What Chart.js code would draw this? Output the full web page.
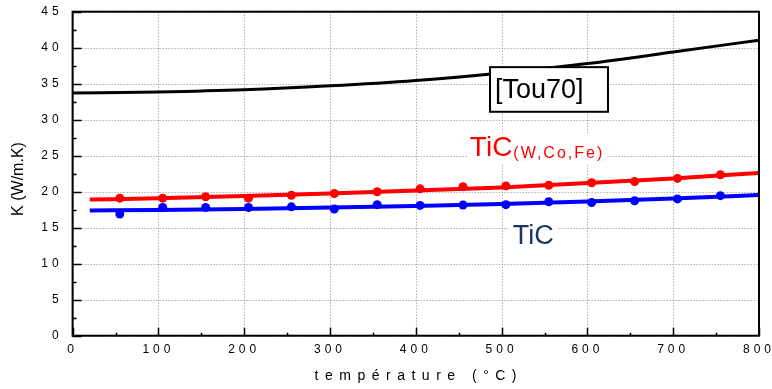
<!DOCTYPE html>
<html><head><meta charset="utf-8">
<script src="https://cdn.jsdelivr.net/npm/chart.js@4.4.1/dist/chart.umd.min.js"></script>
<style>html,body{margin:0;padding:0;background:#fff;}#wrap{width:772px;height:389px;position:relative;}</style>
</head><body><div id="wrap"><canvas id="c" width="772" height="389"></canvas></div>
<script>
// ---- data ----
const measuredTemps = [55, 105, 155, 205, 255, 305, 355, 405, 455, 505, 555, 605, 655, 705, 755];
const ticWCoFe = [19.1, 19.1, 19.3, 19.1, 19.5, 19.75, 20.0, 20.4, 20.7, 20.8, 20.9, 21.25, 21.4, 21.85, 22.35];
const tic = [16.9, 17.8, 17.8, 17.8, 17.9, 17.6, 18.2, 18.1, 18.15, 18.2, 18.6, 18.5, 18.75, 19.0, 19.45];
const fitTemps = [20, 100, 200, 300, 400, 500, 600, 700, 800];
const ticWCoFeFit = [18.9, 19.1, 19.4, 19.75, 20.15, 20.6, 21.2, 21.85, 22.6];
const ticFit = [17.4, 17.45, 17.6, 17.8, 18.0, 18.3, 18.65, 19.05, 19.55];
const tou70Temps = [0, 100, 200, 300, 400, 500, 600, 700, 800];
const tou70 = [33.7, 33.85, 34.15, 34.7, 35.45, 36.5, 37.8, 39.4, 41.05];
const xTickValues = [0, 100, 200, 300, 400, 500, 600, 700, 800];
const yTickValues = [0, 5, 10, 15, 20, 25, 30, 35, 40, 45];
const xTitle = 'température (°C)';
const yTitle = 'K (W/m.K)';
const labelTou70 = '[Tou70]';
const labelTicWCoFe = 'TiC';
const labelTicWCoFeSub = '(W,Co,Fe)';
const labelTic = 'TiC';

const FONT = '"Liberation Sans", Arial, sans-serif';
const pts = (xs, ys) => xs.map((v, i) => ({x: v, y: ys[i]}));

const decor = {
  id: 'decor',
  beforeDraw(chart) { chart.ctx.letterSpacing = '4px'; },
  beforeDatasetsDraw(chart) {
    // dotted grid lines at the scales' ticks
    const {ctx, chartArea: a, scales: {x, y}} = chart;
    ctx.save();
    ctx.strokeStyle = '#8c8c8c'; ctx.lineWidth = 1;
    ctx.setLineDash([1, 2]);
    ctx.beginPath();
    x.ticks.forEach(t => {
      const px = Math.round(x.getPixelForValue(t.value)) + 0.5;
      ctx.moveTo(px, a.top); ctx.lineTo(px, a.bottom);
    });
    y.ticks.forEach(t => {
      const py = Math.round(y.getPixelForValue(t.value)) + 0.5;
      ctx.moveTo(a.left, py); ctx.lineTo(a.right, py);
    });
    ctx.stroke();
    ctx.restore();
  },
  afterDatasetsDraw(chart) {
    const {ctx, chartArea: a, scales: {x, y}} = chart;
    ctx.save();
    ctx.letterSpacing = '0px';
    // frame
    ctx.strokeStyle = '#000'; ctx.lineWidth = 2;
    ctx.strokeRect(a.left, a.top, a.right - a.left, a.bottom - a.top);
    // inward ticks
    ctx.lineWidth = 1.5;
    ctx.beginPath();
    for (let v = 0; v <= 45; v += 2.5) {
      const py = Math.round(y.getPixelForValue(v)) + 0.5;
      const len = (v % 5 === 0) ? 9 : 4;
      ctx.moveTo(a.left, py); ctx.lineTo(a.left + len, py);
    }
    for (let v = 0; v <= 800; v += 50) {
      const px = Math.round(x.getPixelForValue(v)) + 0.5;
      const len = (v % 100 === 0) ? 8 : 3;
      ctx.moveTo(px, a.bottom); ctx.lineTo(px, a.bottom - len);
    }
    ctx.stroke();

    // [Tou70] box
    ctx.font = '27px ' + FONT;
    ctx.textBaseline = 'middle'; ctx.textAlign = 'left';
    const bx0 = x.getPixelForValue(486.5), bx1 = x.getPixelForValue(624);
    const by0 = y.getPixelForValue(37.3), by1 = y.getPixelForValue(31.1);
    ctx.fillStyle = '#fff';
    ctx.fillRect(bx0, by0, bx1 - bx0, by1 - by0);
    ctx.strokeStyle = '#000'; ctx.lineWidth = 2;
    ctx.strokeRect(bx0, by0, bx1 - bx0, by1 - by0);
    ctx.fillStyle = '#000';
    ctx.fillText(labelTou70, bx0 + 5, (by0 + by1) / 2 + 1);

    // TiC(W,Co,Fe)
    ctx.textBaseline = 'alphabetic';
    let tx = x.getPixelForValue(463), ty = y.getPixelForValue(24.9);
    ctx.font = '28px ' + FONT;
    const w1 = ctx.measureText(labelTicWCoFe).width;
    ctx.font = '16px ' + FONT; ctx.letterSpacing = '2px';
    const w2 = ctx.measureText(labelTicWCoFeSub).width;
    ctx.fillStyle = '#fff';
    ctx.fillRect(tx - 2, ty - 23, w1 + w2 + 6, 30);
    ctx.fillStyle = '#ff0000';
    ctx.letterSpacing = '0px';
    ctx.font = '28px ' + FONT;
    ctx.fillText(labelTicWCoFe, tx, ty);
    ctx.font = '16px ' + FONT; ctx.letterSpacing = '2px';
    ctx.fillText(labelTicWCoFeSub, tx + w1 + 1, ty + 2);
    ctx.letterSpacing = '0px';

    // TiC
    tx = x.getPixelForValue(513); ty = y.getPixelForValue(12.7);
    ctx.font = '27px ' + FONT;
    const w3 = ctx.measureText(labelTic).width;
    ctx.fillStyle = '#fff';
    ctx.fillRect(tx - 4, ty - 23, w3 + 8, 28);
    ctx.fillStyle = '#1c3461';
    ctx.fillText(labelTic, tx, ty);
    ctx.restore();
  },
  afterDraw(chart) {
    const {ctx, chartArea: a} = chart;
    ctx.save();
    ctx.fillStyle = '#000';
    ctx.textAlign = 'center'; ctx.textBaseline = 'middle';
    ctx.font = '14px ' + FONT;
    ctx.letterSpacing = '6.5px';
    ctx.fillText(xTitle, (a.left + a.right) / 2 + 3, 376);
    ctx.letterSpacing = '0px';
    ctx.font = '16px ' + FONT;
    ctx.translate(19, 179);
    ctx.rotate(-Math.PI / 2);
    ctx.fillText(yTitle, 0, 0);
    ctx.restore();
  }
};

new Chart(document.getElementById('c'), {
  type: 'scatter',
  data: {
    datasets: [
      {data: pts(tou70Temps, tou70), showLine: true, borderColor: '#000', borderWidth: 3, pointRadius: 0, cubicInterpolationMode: 'monotone'},
      {data: pts(fitTemps, ticWCoFeFit), showLine: true, borderColor: '#ff0000', borderWidth: 4, pointRadius: 0, cubicInterpolationMode: 'monotone'},
      {data: pts(measuredTemps, ticWCoFe), showLine: false, backgroundColor: '#ff0000', borderColor: '#ff0000', pointRadius: 4.5, borderWidth: 0},
      {data: pts(fitTemps, ticFit), showLine: true, borderColor: '#0000ff', borderWidth: 4, pointRadius: 0, cubicInterpolationMode: 'monotone'},
      {data: pts(measuredTemps, tic), showLine: false, backgroundColor: '#0000ff', borderColor: '#0000ff', pointRadius: 4.5, borderWidth: 0}
    ]
  },
  options: {
    responsive: false,
    animation: false,
    devicePixelRatio: 1,
    layout: {padding: {left: 0, right: 13, top: 11.7, bottom: 0}},
    plugins: {legend: {display: false}, tooltip: {enabled: false}},
    scales: {
      x: {
        type: 'linear', min: 0, max: 800,
        afterBuildTicks: s => { s.ticks = xTickValues.map(v => ({value: v})); },
        afterFit: s => { s.height = 53.3; },
        ticks: {color: '#000', font: {family: FONT, size: 12}, padding: 0, maxRotation: 0, autoSkip: false},
        grid: {display: false, drawTicks: true, tickLength: 6.5},
        border: {display: false}
      },
      y: {
        type: 'linear', min: 0, max: 45,
        afterBuildTicks: s => { s.ticks = yTickValues.map(v => ({value: v})); },
        afterFit: s => { s.width = 72.6; },
        ticks: {color: '#000', font: {family: FONT, size: 12}, padding: 0, autoSkip: false},
        grid: {display: false, drawTicks: true, tickLength: 10},
        border: {display: false}
      }
    }
  },
  plugins: [decor]
});
</script></body></html>
